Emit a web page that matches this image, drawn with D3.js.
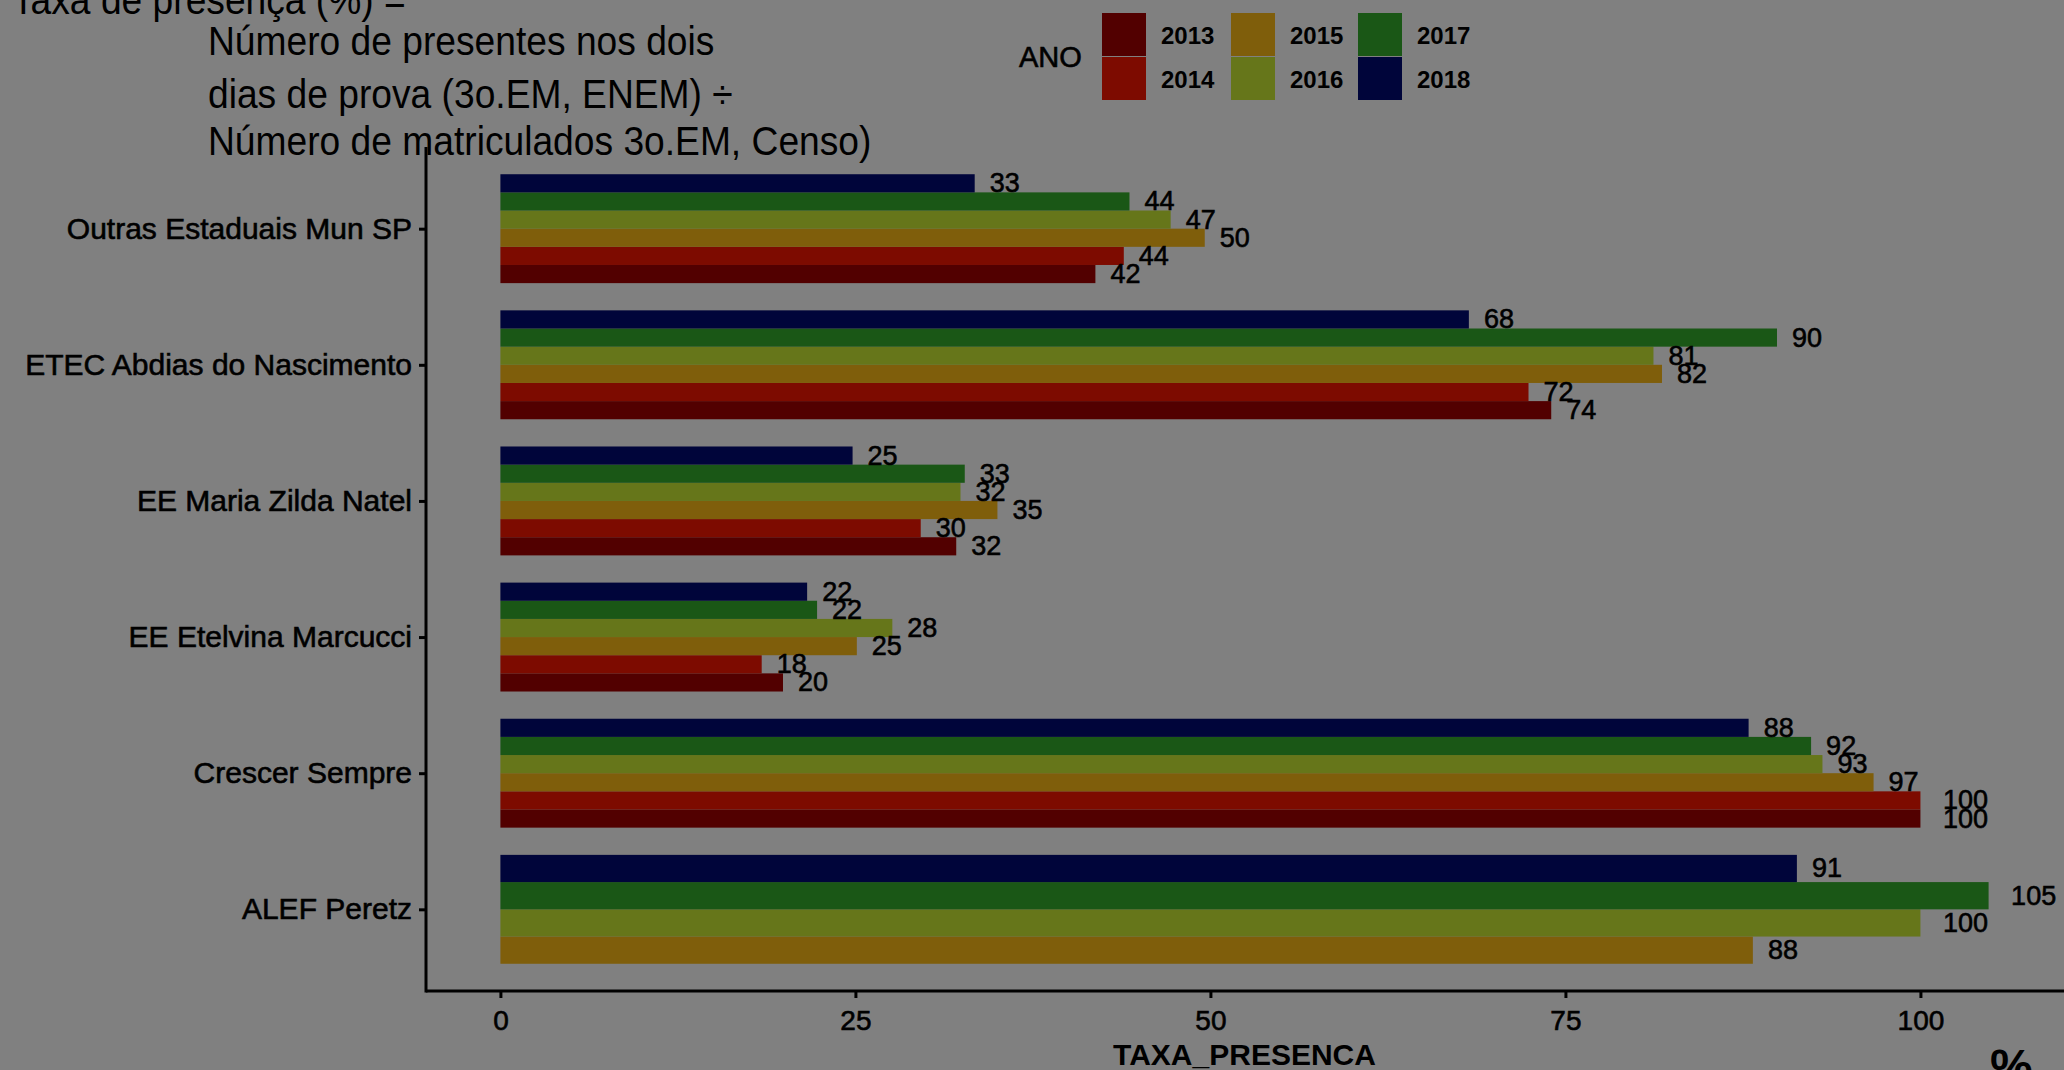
<!DOCTYPE html>
<html>
<head>
<meta charset="utf-8">
<script src="https://cdn.jsdelivr.net/npm/d3@7"></script>
<style>
  html, body { margin: 0; padding: 0; background: #808080; }
  svg { display: block; }
  text { font-family: "Liberation Sans", Arial, Helvetica, sans-serif; fill: #000; }
  .heavy { stroke: #000; stroke-width: 0.6px; }
</style>
</head>
<body>
<svg id="chart" width="2064" height="1070"></svg>
<script>
// ---- data ----
const categories = ["Outras Estaduais Mun SP", "ETEC Abdias do Nascimento", "EE Maria Zilda Natel",
                    "EE Etelvina Marcucci", "Crescer Sempre", "ALEF Peretz"];
const years = ["2013", "2014", "2015", "2016", "2017", "2018"];
const values2013 = [41.9, 74.0, 32.1, 19.9, 100.0, null];
const values2014 = [43.9, 72.4, 29.6, 18.4, 100.0, null];
const values2015 = [49.6, 81.8, 35.0, 25.1, 96.7, 88.2];
const values2016 = [47.2, 81.2, 32.4, 27.6, 93.1, 100.0];
const values2017 = [44.3, 89.9, 32.7, 22.3, 92.3, 104.8];
const values2018 = [33.4, 68.2, 24.8, 21.6, 87.9, 91.3];
const xTicks = [0, 25, 50, 75, 100];
const legendTitle = "ANO";
const xTitle = "TAXA_PRESENCA";
const noteLines = ["Taxa de presença (%) =", "Número de presentes nos dois",
                   "dias de prova (3o.EM, ENEM) ÷", "Número de matriculados 3o.EM, Censo)"];
const colors = ["#520000", "#7d0b00", "#7f5e0b", "#66761a", "#1a5716", "#00053a"];

const seriesValues = [values2013, values2014, values2015, values2016, values2017, values2018];

// ---- layout ----
const svg = d3.select("#chart");
const panel = { left: 426, right: 2063, top: 147, bottom: 991 };

const maxV = d3.max(seriesValues.flat().filter(v => v != null));
const pad = maxV * 0.05;
const x = d3.scaleLinear().domain([0 - pad, maxV + pad]).range([panel.left, panel.right]);
const y = d3.scalePoint().domain(categories).range([panel.top, panel.bottom]).padding(0.6);
const step = y.step();
const color = d3.scaleOrdinal().domain(years).range(colors);

// build rows
const rows = [];
categories.forEach((c, ci) => {
  const present = years.filter((yr, yi) => seriesValues[yi][ci] != null);
  const inner = d3.scaleBand().domain(present.slice().reverse())
    .range([y(c) - step * 0.4, y(c) + step * 0.4]);
  present.forEach(yr => {
    const yi = years.indexOf(yr);
    rows.push({ cat: c, year: yr, value: seriesValues[yi][ci], y0: inner(yr), h: inner.bandwidth() });
  });
});

// bars
svg.append("g").selectAll("rect").data(rows).join("rect")
  .attr("x", x(0))
  .attr("y", d => d.y0)
  .attr("width", d => x(d.value) - x(0))
  .attr("height", d => d.h)
  .attr("fill", d => color(d.year));

// value labels (hjust = -0.5)
const fmt = d3.format(".0f");
const lbl = svg.append("g").selectAll("text").data(rows).join("text")
  .attr("class", "heavy")
  .attr("font-size", 27)
  .attr("dominant-baseline", "central")
  .attr("y", d => d.y0 + d.h / 2)
  .text(d => fmt(d.value));
lbl.each(function(d) {
  const w = this.getComputedTextLength();
  d3.select(this).attr("x", x(d.value) + 0.5 * w);
});

// axes
const xAxis = svg.append("g").attr("transform", `translate(0,${panel.bottom})`)
  .call(d3.axisBottom(x).tickValues(xTicks).tickSize(7).tickPadding(12).tickFormat(d3.format("d")));
xAxis.select(".domain").attr("d", `M${panel.left},0H${panel.right + 5}`).attr("stroke", "#000").attr("stroke-width", 3);
xAxis.selectAll(".tick line").attr("stroke", "#000").attr("stroke-width", 3);
xAxis.selectAll(".tick text").attr("font-size", 28).attr("font-family", "Liberation Sans, Arial, sans-serif")
  .attr("fill", "#000").attr("class", "heavy");

const yAxis = svg.append("g").attr("transform", `translate(${panel.left},0)`)
  .call(d3.axisLeft(y).tickSize(7).tickPadding(7));
yAxis.select(".domain").attr("d", `M0,${panel.top}V${panel.bottom + 1.5}`).attr("stroke", "#000").attr("stroke-width", 3);
yAxis.selectAll(".tick line").attr("stroke", "#000").attr("stroke-width", 3);
yAxis.selectAll(".tick text").attr("font-size", 30).attr("font-family", "Liberation Sans, Arial, sans-serif")
  .attr("fill", "#000").attr("class", "heavy");

// x title (cut at bottom edge)
svg.append("text").attr("x", (panel.left + panel.right) / 2).attr("y", 1065)
  .attr("text-anchor", "middle").attr("font-size", 30).attr("font-weight", "bold").text(xTitle);

// stray "%" at bottom right
svg.append("text").attr("x", 1990).attr("y", 1083).attr("font-size", 48).attr("font-weight", "bold").text("%");

// note text top-left
const noteX = [12, 208, 208, 208];
const noteY = [14, 55, 108, 155];
noteLines.forEach((t, i) => {
  svg.append("text").attr("transform", `translate(${noteX[i]},${noteY[i]}) scale(0.93,1)`)
    .attr("font-size", 40).text(t);
});

// legend
const lg = svg.append("g");
lg.append("text").attr("x", 1019).attr("y", 57).attr("dominant-baseline", "central")
  .attr("class", "heavy").attr("font-size", 29).text(legendTitle);
const colX = [1102, 1231, 1358];
const rowY = [13, 57];
years.forEach((yr, i) => {
  const cx = colX[Math.floor(i / 2)], ry = rowY[i % 2];
  lg.append("rect").attr("x", cx).attr("y", ry).attr("width", 44).attr("height", 43).attr("fill", color(yr));
  lg.append("text").attr("x", cx + 59).attr("y", ry + 22).attr("dominant-baseline", "central")
    .attr("font-size", 24).attr("font-weight", "bold").text(yr);
});
</script>
</body>
</html>
